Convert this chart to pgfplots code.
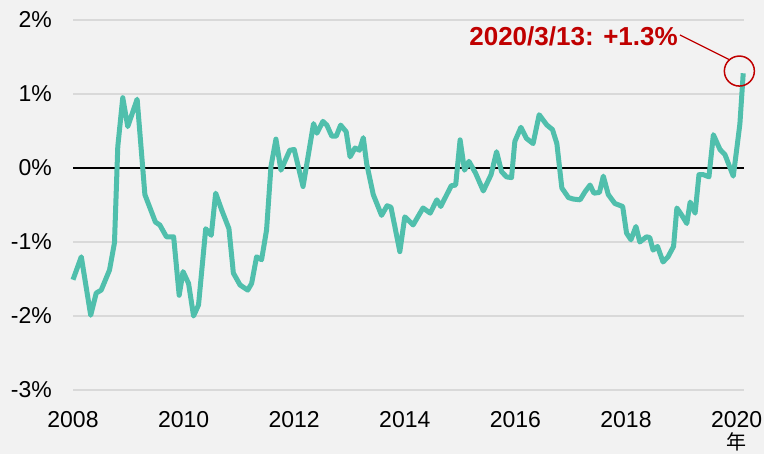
\documentclass[border=0pt]{standalone}
\usepackage{pgfplots}
\pgfplotsset{compat=1.18}
\usepackage{fontspec}
\setmainfont{Liberation Sans}
\newfontfamily\cjk{Noto Sans CJK SC}
\usetikzlibrary{backgrounds}
\definecolor{bgc}{RGB}{242,242,242}
\definecolor{linec}{RGB}{80,191,172}
\definecolor{gridc}{RGB}{217,217,217}
\definecolor{redc}{RGB}{192,0,0}
\begin{document}
\begin{tikzpicture}[font=\fontsize{23bp}{27bp}\selectfont]
\begin{axis}[
  at={(0,0)}, anchor=south west,
  scale only axis, width=671bp, height=370bp,
  xmin=2008, xmax=2020.134, ymin=-3, ymax=2,
  axis line style={draw=none}, major tick length=0pt,
  xtick={2008,2010,2012,2014,2016,2018,2020},
  xticklabels={2008,2010,2012,2014,2016,2018,2020},
  ytick={-3,-2,-1,0,1,2},
  yticklabels={-3\%,-2\%,-1\%,0\%,1\%,2\%},
  ymajorgrids, grid style={draw=gridc, line width=1.3bp},
  yticklabel style={inner sep=0pt}, yticklabel shift=21bp,
  xticklabel style={inner sep=0pt, anchor=north}, xticklabel shift=21bp,
  clip=false,
]
\draw[black, line width=1.5bp] (axis cs:2008,0) -- (axis cs:2020.134,0);
\addplot[linec, line width=5bp, line join=round, no marks] table {
x y
2008.00 -1.51
2008.15 -1.20
2008.32 -1.99
2008.42 -1.69
2008.51 -1.65
2008.66 -1.38
2008.75 -1.01
2008.81 0.29
2008.90 0.95
2008.99 0.56
2009.16 0.93
2009.30 -0.36
2009.49 -0.73
2009.57 -0.77
2009.69 -0.93
2009.82 -0.93
2009.92 -1.72
2009.99 -1.40
2010.09 -1.56
2010.18 -2.00
2010.27 -1.85
2010.40 -0.82
2010.50 -0.91
2010.58 -0.34
2010.69 -0.57
2010.82 -0.82
2010.90 -1.42
2011.02 -1.58
2011.16 -1.65
2011.23 -1.56
2011.32 -1.20
2011.41 -1.24
2011.50 -0.84
2011.58 0.02
2011.67 0.39
2011.76 -0.03
2011.92 0.24
2012.00 0.25
2012.16 -0.25
2012.35 0.60
2012.41 0.47
2012.52 0.63
2012.59 0.58
2012.68 0.43
2012.76 0.43
2012.84 0.58
2012.94 0.49
2013.01 0.15
2013.10 0.27
2013.18 0.24
2013.25 0.41
2013.31 0.06
2013.43 -0.36
2013.58 -0.64
2013.68 -0.51
2013.75 -0.53
2013.82 -0.79
2013.91 -1.13
2014.00 -0.66
2014.15 -0.77
2014.33 -0.54
2014.46 -0.61
2014.58 -0.43
2014.65 -0.52
2014.84 -0.24
2014.92 -0.23
2015.00 0.38
2015.08 -0.03
2015.16 0.09
2015.28 -0.07
2015.42 -0.31
2015.56 -0.09
2015.66 0.22
2015.75 -0.05
2015.84 -0.12
2015.93 -0.13
2015.99 0.36
2016.10 0.55
2016.20 0.40
2016.32 0.33
2016.43 0.72
2016.57 0.58
2016.67 0.52
2016.75 0.33
2016.84 -0.27
2016.96 -0.40
2017.05 -0.42
2017.17 -0.43
2017.26 -0.32
2017.35 -0.23
2017.42 -0.34
2017.52 -0.33
2017.59 -0.11
2017.68 -0.36
2017.80 -0.48
2017.94 -0.52
2018.01 -0.88
2018.09 -0.97
2018.18 -0.79
2018.25 -1.00
2018.37 -0.93
2018.43 -0.94
2018.49 -1.11
2018.57 -1.06
2018.67 -1.27
2018.76 -1.20
2018.86 -1.06
2018.92 -0.54
2019.01 -0.64
2019.10 -0.75
2019.16 -0.46
2019.25 -0.61
2019.32 -0.09
2019.40 -0.09
2019.50 -0.12
2019.58 0.45
2019.70 0.25
2019.79 0.18
2019.94 -0.11
2020.00 0.24
2020.06 0.60
2020.12 1.28
};
\draw[redc, line width=1.5bp] (axis cs:2020.05,1.31) circle[radius=15bp];
\draw[redc, line width=1.2bp] (axis cs:2018.976,1.797) -- (axis cs:2019.881,1.459);
\node[anchor=center, inner sep=0pt, font=\cjk\fontsize{20bp}{24bp}\selectfont] at ([yshift=-52bp]axis cs:2020,-3) {年};
\node[anchor=base east, text=redc, inner sep=0pt, font=\bfseries\fontsize{26bp}{30bp}\selectfont] at (axis cs:2018.94,1.662) {2020/3/13: +1.3\%};
\end{axis}
\begin{scope}[on background layer]
\fill[bgc] (-73bp,-64bp) rectangle (691bp,390bp);
\end{scope}
\pgfresetboundingbox
\useasboundingbox (-73bp,-64bp) rectangle (691bp,390bp);
\end{tikzpicture}
\end{document}
